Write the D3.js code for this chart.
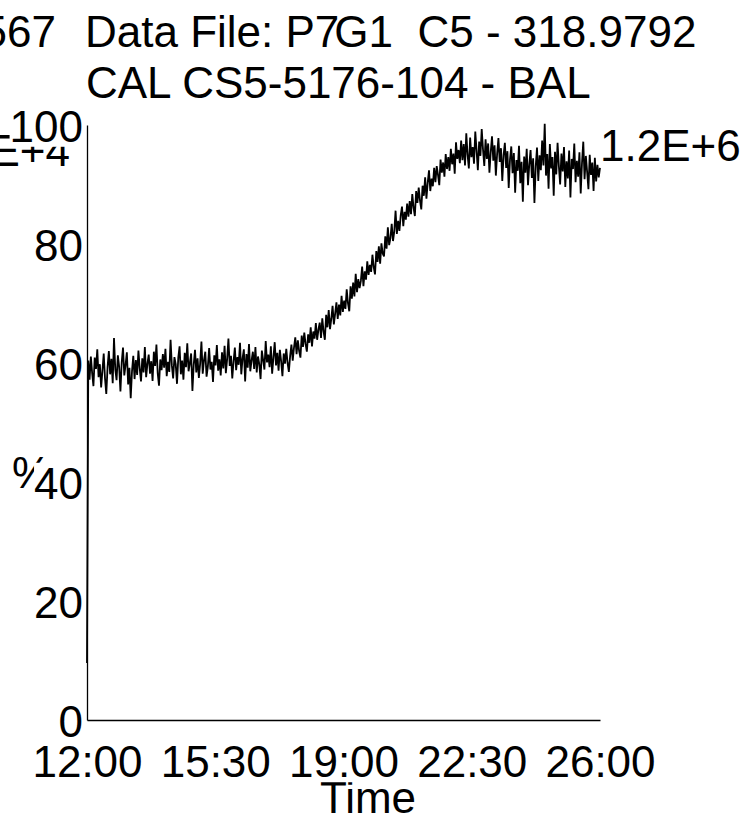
<!DOCTYPE html>
<html>
<head>
<meta charset="utf-8">
<script src="https://cdn.jsdelivr.net/npm/d3@7"></script>
<style>
  html, body { margin: 0; padding: 0; background: #fff; overflow: hidden; }
  svg { display: block; font-family: "Liberation Sans", Arial, sans-serif; }
  text { white-space: pre; }
</style>
</head>
<body>
<svg id="chart" width="745" height="818"></svg>
<script>
// Relative abundance (%) of the calibrated ion trace, sampled evenly over the run
const percentValues = [
  9.6,
  // steady baseline
  60.4, 57.2, 61.1, 58.3, 56.1, 60.9, 59.0, 62.3, 57.6, 59.8,
  55.9, 58.7, 61.6, 57.4, 54.8, 59.3, 62.0, 58.1, 60.7, 56.6,
  64.2, 58.9, 57.1, 61.3, 59.4, 55.2, 60.1, 62.6, 57.9, 59.7,
  61.8, 56.4, 59.2, 54.1, 58.6, 61.2, 57.3, 60.5, 58.0, 62.1,
  59.1, 56.9, 60.8, 58.4, 62.7, 57.6, 59.9, 61.4, 58.2, 60.3,
  57.0, 61.9, 59.5, 63.1, 58.3, 56.2, 60.6, 58.8, 61.5, 59.2,
  62.4, 57.8, 60.2, 58.5, 63.9, 59.6, 57.4, 61.0, 59.8, 56.5,
  60.9, 62.8, 58.1, 60.4, 57.2, 61.7, 59.3, 63.3, 58.6, 60.0,
  61.6, 55.3, 59.7, 62.2, 58.4, 60.8, 57.5, 59.9, 63.6, 58.2,
  60.5, 61.9, 57.7, 59.4, 62.5, 58.9, 60.2, 56.8, 61.3, 59.6,
  63.0, 58.7, 60.6, 57.9, 61.8, 59.1, 62.9, 58.3, 60.7, 64.1,
  59.5, 61.2, 57.4, 60.3, 62.6, 58.8, 61.0, 59.7, 63.4, 58.1,
  60.8, 62.3, 56.9, 61.5, 59.2, 63.2, 58.6, 60.4, 61.9, 59.0,
  62.7, 58.4, 61.1, 59.8, 57.3, 62.1, 60.5, 58.9, 63.7, 60.1,
  61.4, 59.3, 62.8, 58.2, 60.9, 63.5, 59.6, 61.7, 58.7, 62.2,
  60.3, 57.8, 61.6, 59.9, 62.4, 60.0, 58.5,
  // onset
  61.2, 63.1, 60.4, 62.6, 64.3, 61.5, 63.8, 62.0, 60.9, 64.6,
  62.7, 65.1, 63.2, 61.9, 64.8, 63.4, 66.0, 62.8, 65.3, 64.1,
  66.7, 63.9, 65.6,
  // rise
  66.8, 64.2, 67.5, 65.3, 63.9, 68.1, 66.0, 68.9, 65.7, 67.4,
  69.6, 66.5, 68.3, 70.2, 67.4, 69.8, 68.0, 71.3, 68.6, 70.5,
  69.1, 72.4, 70.0, 68.7, 72.9, 70.8, 73.5, 71.2, 75.0, 71.9,
  74.1, 72.6, 73.8, 76.2, 72.9, 75.4, 74.0, 77.1, 74.8, 76.5,
  75.3, 78.2, 76.1, 74.9, 78.8, 77.0, 79.6, 76.7, 80.1, 78.4,
  77.9, 81.3, 79.2, 82.8, 79.8, 81.0, 83.4, 80.5, 82.1, 85.6,
  81.7, 83.9, 82.2, 84.8, 86.3, 83.0, 85.4, 84.1, 86.8, 84.6,
  87.2, 85.0, 88.4, 86.1, 84.7, 88.9, 86.9, 89.5, 87.3, 85.8,
  89.8, 88.1, 91.2, 87.6, 90.3, 92.4, 88.9, 91.0, 89.7, 92.8,
  90.4, 93.1, 91.6, 89.9, 94.2, 92.0, 93.7, 91.3, 95.1, 92.6,
  94.6, 92.3, 96.0, 93.4, 95.2, 91.8, 97.1, 94.3, 95.8, 93.6,
  // plateau
  97.4, 94.1, 96.8, 93.2, 98.6, 95.0, 92.7, 97.9, 94.6, 96.3,
  93.5, 98.9, 95.7, 92.4, 97.2, 94.8, 99.3, 95.9, 93.1, 97.6,
  94.3, 96.9, 92.0, 95.4, 98.1, 94.0, 96.6, 91.5, 95.2, 97.8,
  93.8, 96.1, 90.6, 94.9, 97.0, 92.8, 95.6, 89.4, 94.2, 96.4,
  // tail
  91.9, 95.3, 88.6, 94.1, 92.3, 96.5, 90.2, 93.8, 87.1, 94.7,
  92.0, 96.0, 89.9, 93.4, 95.8, 91.1, 94.4, 86.9, 93.0, 96.2,
  90.6, 94.9, 92.4, 97.4, 93.2, 100.2, 91.5, 95.1, 89.3, 96.8,
  92.7, 94.6, 88.1, 95.5, 91.7, 97.0, 93.1, 90.0, 95.2, 92.2,
  96.3, 89.6, 93.9, 91.0, 95.7, 87.8, 94.3, 92.6, 96.9, 90.4,
  94.0, 91.3, 95.4, 88.5, 93.6, 97.2, 90.9, 94.8, 92.1, 89.2,
  95.0, 91.6, 93.7, 88.9, 94.5, 90.5, 93.3, 91.2, 92.8
];

// Run window in hours (clock hours past midnight of the start day)
const timeStart = 12;
const timeEnd = 26;
const timeTicks = [12, 15.5, 19, 22.5, 26];
const timeTickLabels = ["12:00", "15:30", "19:00", "22:30", "26:00"];
const percentTicks = [0, 20, 40, 60, 80, 100];

const headerRunId = "567";
const headerFile = ["Data File: P7", "G1  C5 - 318.9792"];
const headerLine2 = "CAL CS5-5176-104 - BAL";
const leftMaxLabel = "1.2E+4";
const rightMaxLabel = "1.2E+6";
const yTitle = "%";
const xTitle = "Time";

const FONT = 44;
const svg = d3.select("#chart");

const x = d3.scaleLinear().domain([timeStart, timeEnd]).range([87, 600]);
const y = d3.scaleLinear().domain([0, 100]).range([720, 125]);

const sampleTimes = percentValues.map((_, i) =>
  timeStart + i * (timeEnd - timeStart) / (percentValues.length - 1));

// Header
const header = svg.append("g").attr("font-size", FONT).attr("fill", "#000");
header.append("text").attr("x", 56).attr("y", 47).attr("text-anchor", "end").text(headerRunId);
const h1 = header.append("text").attr("x", 85).attr("y", 47);
h1.append("tspan").text(headerFile[0]);
h1.append("tspan").attr("dx", -5).text(headerFile[1]);
header.append("text").attr("x", 86).attr("y", 98).text(headerLine2);

// Axis titles and scale-maximum annotations
svg.append("text").attr("x", 12).attr("y", 488).attr("font-size", FONT).text(yTitle);
svg.append("text").attr("x", 368).attr("y", 813).attr("text-anchor", "middle")
  .attr("font-size", FONT).text(xTitle);
svg.append("text").attr("x", 70).attr("y", 166).attr("text-anchor", "end")
  .attr("font-size", FONT).text(leftMaxLabel);
svg.append("text").attr("x", 600).attr("y", 161)
  .attr("font-size", FONT).text(rightMaxLabel);

// Trace
const line = d3.line()
  .x((d, i) => x(sampleTimes[i]))
  .y(d => y(d));
svg.append("path")
  .datum(percentValues)
  .attr("fill", "none")
  .attr("stroke", "#000")
  .attr("stroke-width", 1.8)
  .attr("stroke-linejoin", "miter")
  .attr("d", line);

// Axes
const yAxis = svg.append("g")
  .attr("transform", `translate(${x(timeStart)},0)`)
  .call(d3.axisLeft(y).tickValues(percentTicks).tickSize(0).tickPadding(4)
    .tickFormat(d3.format("d")));
const xAxis = svg.append("g")
  .attr("transform", `translate(0,${y(0)})`)
  .call(d3.axisBottom(x).tickValues(timeTicks).tickSize(0).tickPadding(26)
    .tickFormat((d, i) => timeTickLabels[i]));

[yAxis, xAxis].forEach(g => {
  g.attr("font-size", FONT).attr("font-family", null);
  g.select(".domain").attr("stroke", "#000").attr("stroke-width", 1.3);
  g.selectAll(".tick text").attr("fill", "#000");
});
yAxis.selectAll(".tick text").attr("dy", "0.37em");

// Opaque label backgrounds
function backLabels(g) {
  g.selectAll(".tick").each(function () {
    const t = d3.select(this).select("text");
    const b = t.node().getBBox();
    d3.select(this).insert("rect", "text")
      .attr("x", b.x).attr("y", b.y + 4)
      .attr("width", b.width).attr("height", b.height - 8)
      .attr("fill", "#fff");
  });
}
backLabels(yAxis);
backLabels(xAxis);
yAxis.raise();
</script>
</body>
</html>
